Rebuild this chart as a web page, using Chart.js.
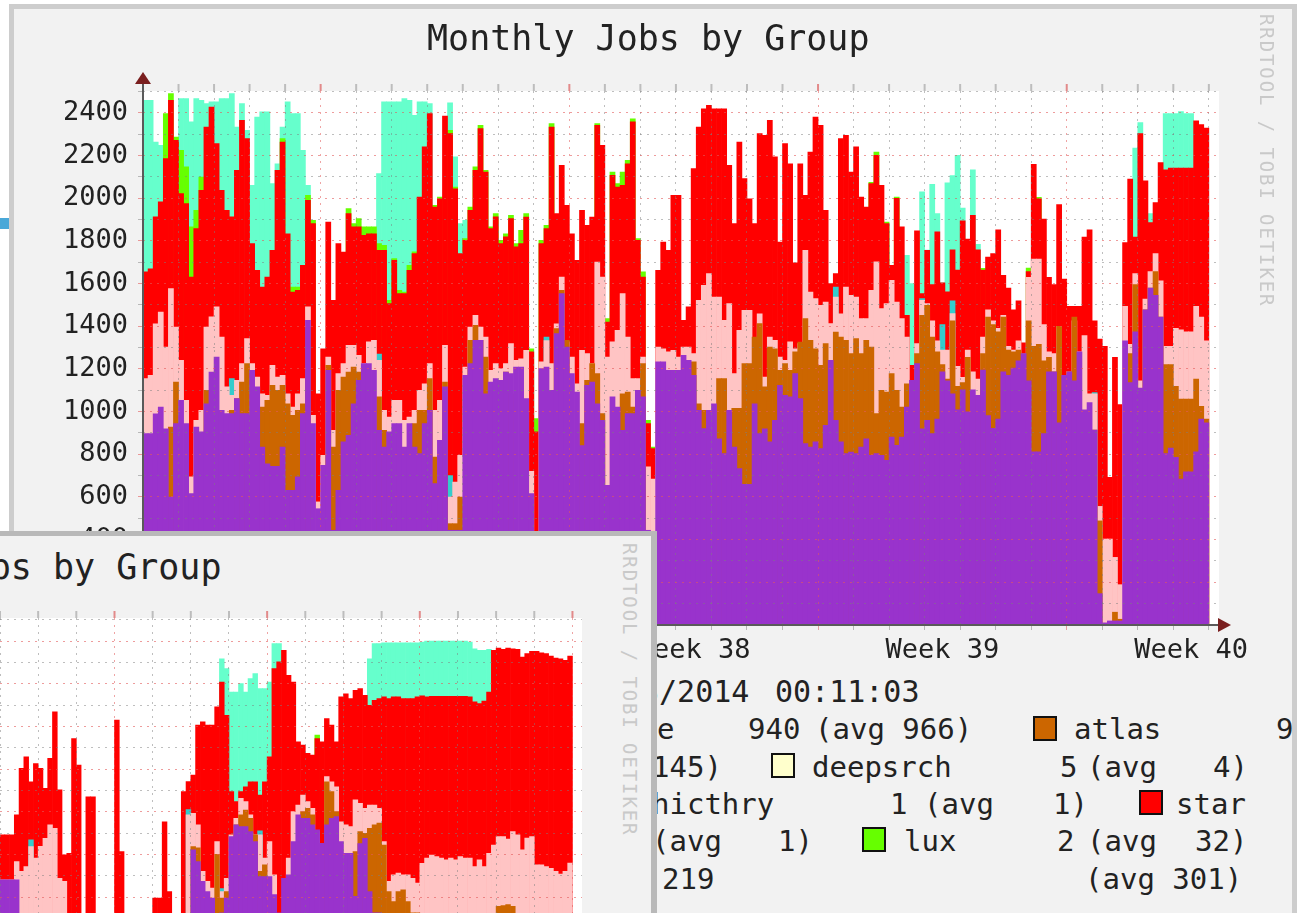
<!DOCTYPE html>
<html>
<head>
<meta charset="utf-8">
<title>Monthly Jobs by Group</title>
<script src="https://cdn.jsdelivr.net/npm/chart.js@4"></script>
<style>
  html, body { margin: 0; padding: 0; background: #fff; overflow: hidden; }
  #page { position: relative; width: 1297px; height: 913px; overflow: hidden; filter: blur(0.7px); }
  .panel { position: absolute; background: #f2f2f2; overflow: hidden; box-sizing: border-box; }
  #panelBack { left: 9px; top: 4px; width: 1288px; height: 909px; border: solid #cdcdcd; border-width: 5px 5px 0 5px; }
  #panelFront { left: -6px; top: 531px; width: 663px; height: 382px; border: solid #b9b9b9; border-width: 5px 6px 0 0; z-index: 5; }
  #blueMark { position: absolute; left: 0; top: 218px; width: 9px; height: 11px; background: #4aa8d8; }
  canvas { position: absolute; }
  #chartBack { left: 0; top: 0; }
  #chartFront { left: 0; top: 600px; z-index: 6; }
  .txt { position: absolute; white-space: pre; font-family: "DejaVu Sans Mono", monospace; color: #222; transform: translateY(-50%); }
  .title { font-size: 35px; }
  .legend { font-size: 29px; }
  .date { font-size: 30px; }
  .stamp { position: absolute; white-space: pre; font-family: "DejaVu Sans Mono", monospace; font-size: 19px; letter-spacing: 1.9px; color: #c9c9c9; writing-mode: vertical-rl; }
  .swatch { position: absolute; width: 24px; height: 25px; box-sizing: border-box; border: 2px solid #111; }
</style>
</head>
<body>
<div id="page">
  <div id="blueMark"></div>
  <div class="panel" id="panelBack"></div>
  <canvas id="chartBack" width="1297" height="660"></canvas>
  <div class="panel" id="panelFront"></div>
  <canvas id="chartFront" width="582" height="313"></canvas>
</div>
<script>
// back graph, one value per column (top of each layer)
const backPurple = [
  897,897,990,1022,920,600,944,1053,944,616,
  928,905,1037,1186,1256,1006,991,991,1061,991,
  991,1194,1116,834,756,744,744,834,631,631,
  694,991,1428,944,545,748,1194,444,631,858,
  889,1037,1147,1225,1225,1194,913,834,905,944,
  944,834,944,834,803,944,1006,663,866,1116,
  444,444,444,1170,1225,1334,1334,1084,1139,1155,
  1147,1186,1178,1209,1209,1061,616,400,1202,1209,
  1100,1366,1553,1303,1178,1092,841,1123,1139,1037,
  959,655,1069,1022,913,991,991,1100,1069,444,
  400,1233,1233,1194,1194,1194,1264,1241,1170,1006,
  921,1006,1037,873,803,1006,834,733,659,659,
  1037,897,920,858,959,1123,1077,1069,1178,1061,
  850,834,858,827,936,1241,959,858,803,811,
  803,834,873,795,803,795,772,881,842,881,
  1022,1147,1225,920,959,897,965,1187,1144,1084,
  1008,1102,999,1102,1076,1195,982,922,965,1187,
  1170,1204,1238,1272,1144,812,812,897,1187,1187,
  948,1170,1187,1144,1281,1008,1042,914,147,10,
  19,19,19,1332,1136,1374,1110,1477,1579,1545,
  1443,803,829,786,684,718,718,812,965,948]
const backBrown = [
  0,0,0,0,0,928,1139,0,0,0,
  0,897,1100,0,0,0,0,1006,1061,1139,
  1225,0,0,1022,1053,1123,1100,1123,1037,983,
  1006,1037,1397,0,0,0,1217,834,1100,1162,
  1186,1209,1186,0,0,0,1069,912,0,0,
  0,0,0,944,1006,1006,1155,787,0,1139,
  475,475,600,0,1334,1405,1334,1256,0,0,
  0,1186,1084,0,0,0,0,0,0,0,
  0,1389,1569,1334,0,0,944,1147,1225,1178,
  991,0,0,1014,1084,1092,1022,0,1225,0,
  0,0,0,0,0,0,0,0,1233,1037,
  1006,0,0,1155,1155,0,1016,1016,1225,1225,
  1350,1413,1116,1303,1295,1194,1225,1194,1280,1326,
  1436,1334,1295,1217,1319,0,1373,1350,1334,1272,
  1342,1272,1334,1303,991,1100,1092,1178,1100,1022,
  1131,0,1272,1452,1498,1349,1281,1221,1153,1426,
  1119,1136,1255,0,1069,1272,1443,1408,1374,1443,
  1289,1281,1289,1272,1426,1306,1315,1238,1255,1187,
  1400,1170,1187,1443,0,0,0,914,488,0,
  0,60,27,0,1272,1596,0,1477,1579,1656,
  1443,1221,1221,1119,1059,1059,1059,1153,1025,965]
const backPink = [
  1155,1170,1412,1467,1303,1577,1397,1241,1053,694,
  959,1006,1397,1444,1491,1350,1116,1077,1147,1225,
  1342,1225,1162,1084,1077,1217,1162,1170,1084,1022,
  1084,1155,1491,983,577,795,1256,912,1178,1225,
  1311,1311,1264,1225,1327,1334,1241,1006,975,1053,
  1053,959,975,1006,1100,1131,1225,1006,1053,1311,
  600,670,795,1209,1397,1452,1397,1350,1194,1225,
  1202,1225,1319,1241,1248,1288,720,0,1233,1333,
  1225,1412,1631,1327,1256,1131,1288,1272,1225,1701,
  1631,1256,1327,1381,1553,1350,1155,1155,1256,741,
  684,1303,1295,1280,1288,1256,1303,1303,1272,1522,
  1592,1647,1537,1537,1428,1506,1178,1381,1475,1475,
  1319,1459,1162,1350,1334,1256,1241,1327,1295,1319,
  1756,1561,1530,1498,1514,1413,1537,1459,1584,1545,
  1537,1436,1436,1569,1702,1483,1506,1616,1514,1436,
  1350,1147,1319,1522,1506,1426,1332,1289,1289,1460,
  1212,1161,1289,1187,1153,1349,1477,1426,1391,1451,
  1306,1289,1332,1272,1630,1715,1715,1408,1281,1272,
  1400,1170,1187,1426,1281,1357,1084,1084,556,403,
  403,317,189,1494,1315,1647,1144,1528,1656,1741,
  1613,1306,1306,1391,1383,1374,1374,1494,1443,1332]
const backRed = [
  1655,1670,1913,1983,2186,2459,2272,2022,1975,1631,
  1858,2037,2334,2428,2256,2037,1944,1913,2131,2366,
  2280,1788,1662,1584,1631,1756,2131,2264,1834,1561,
  1569,1686,1991,1881,1084,1295,1889,1522,1788,1748,
  1928,1866,1866,1827,1834,1834,1756,1756,1506,1709,
  1553,1553,1662,1741,2006,2241,2397,1959,1998,2386,
  2303,2045,1741,1803,1944,2131,2327,2123,1858,1913,
  1788,1819,1905,1772,1788,1912,1280,905,1788,1858,
  2334,1928,2155,1967,1834,1709,1944,1873,1912,2342,
  2248,1420,2108,2053,2061,2162,2358,1803,1631,944,
  827,1662,1795,1756,2014,2014,1428,1491,2139,2334,
  2420,2436,2420,2420,2420,2155,1881,2264,2092,1998,
  1881,2303,2295,2366,2194,1795,2256,2162,1698,2162,
  2014,2217,2381,2342,1944,1600,1647,2280,2295,2123,
  2241,2006,1959,2069,2202,2061,1881,1686,2000,1866,
  1452,1217,1847,1553,1756,1596,1843,1604,1562,1758,
  1664,1894,1809,1920,1758,1664,1724,1741,1852,1639,
  1579,1477,1519,1323,1656,2159,1997,1903,1630,1596,
  1971,1622,1494,1494,1494,1818,1852,1426,1340,1306,
  692,1255,1033,1792,2090,1818,2304,2082,1886,1980,
  2167,2133,2142,2142,2142,2142,2142,2363,2346,2329]
const backLime = [
  0,0,0,0,2397,2491,2287,2225,2147,1866,
  1944,2100,0,0,0,0,0,0,0,0,
  0,0,0,0,0,0,0,2280,0,1584,
  1584,0,2014,1897,0,0,0,0,0,0,
  1952,1881,1905,1866,1866,1866,1788,1780,1522,1717,
  1569,1561,1686,1749,0,0,0,1967,2006,0,
  2319,2053,0,1811,1959,2147,2342,2131,1866,1928,
  1803,1834,1920,1788,1850,1928,1295,967,1803,1873,
  2350,0,0,0,0,0,0,0,0,2350,
  0,1436,2123,2069,2123,2178,2373,1811,1655,959,
  834,0,0,0,0,0,0,0,0,0,
  0,0,0,0,0,0,0,0,0,0,
  0,0,0,0,0,0,0,0,0,0,
  0,0,0,0,0,0,0,0,0,0,
  0,0,0,2075,2217,0,1889,0,2006,0,
  0,0,0,0,0,0,0,0,0,0,
  0,0,0,0,0,1672,0,0,0,0,
  0,0,0,0,1673,0,2005,0,0,0,
  0,0,0,0,0,0,0,0,0,0,
  0,0,0,0,0,0,0,0,0,0,
  0,0,0,0,0,0,0,0,0,0]
const backAqua = [
  2459,2459,2264,2248,0,0,0,2467,2467,2358,
  2467,2459,2444,2452,2452,2467,2467,2491,2334,2444,
  2319,2061,2381,2405,2405,2069,2162,2334,2452,2397,
  2397,2225,2061,0,0,0,0,0,0,0,
  0,0,0,0,0,0,2116,2452,2452,2452,
  2452,2467,2459,2389,2452,2452,2444,0,0,0,
  2448,2194,1881,1897,0,0,0,0,0,0,
  0,0,0,0,0,0,0,0,0,0,
  0,0,0,0,0,0,0,0,0,0,
  0,0,0,0,0,0,0,0,0,0,
  0,0,0,0,0,0,0,0,0,0,
  0,0,0,0,0,0,0,0,0,0,
  0,0,0,0,0,0,0,0,0,0,
  0,0,0,0,0,0,0,0,0,0,
  0,0,0,0,0,0,0,0,0,0,
  1733,1600,0,2030,1757,2065,1929,1604,2073,2107,
  2201,1954,0,2133,1784,0,0,0,0,0,
  0,0,0,0,0,0,0,0,0,0,
  0,0,0,0,0,0,0,0,0,0,
  0,0,0,0,0,2235,2355,0,1929,0,
  0,2397,2397,2397,2406,2397,2397,0,0,0]
// the thin teal layer only shows in a few columns: [column, top]
const backTealSpots = [[17,1155],[46,1270],[60,700],[79,1350],[136,1584],[153,1530],[157,1408],[159,1520],[187,1090]]

// front graph
const frontPurple = [
  1281,1281,1281,1281,0,0,0,0,0,0,
  0,0,0,0,0,0,0,0,0,0,
  0,0,0,0,0,0,0,0,0,0,
  0,0,0,0,0,0,0,0,0,0,
  1421,1366,1273,1226,1195,0,1126,1195,1483,1538,
  1530,1530,1507,1460,1296,1296,1296,1211,1126,1288,
  1304,1460,1585,1569,1569,1538,1515,1452,1538,1569,
  1577,1460,1405,1405,1203,1450,1475,1226,1126,1126]
const frontBrown = [
  0,0,0,0,0,0,0,0,0,0,
  0,0,0,0,0,0,0,0,0,0,
  0,0,0,0,0,0,0,0,0,0,
  0,0,0,0,0,0,0,0,0,0,
  1436,1430,0,0,0,1400,1195,1226,0,1538,
  1585,1608,1569,1491,1320,1351,0,0,0,0,
  0,0,0,1600,1616,1585,0,0,1740,1694,
  1600,0,0,0,1413,1507,1499,1522,1538,1546,
  1444,1226,1179,1226,1234,1179,1126,1126,0,0,
  0,0,0,0,0,0,0,0,0,0,
  0,0,0,0,1156,1160,1164,1156,0,0]
const frontPink = [
  1281,1281,1281,1366,1320,1343,1436,1382,1437,1475,
  1538,1522,1288,1273,0,0,0,0,0,0,
  0,0,0,0,0,0,0,0,0,0,
  0,0,0,0,0,0,0,0,0,1585,
  1592,1538,1320,1273,1242,1460,1226,1288,1491,1569,
  1663,1647,1585,1491,1491,1382,1460,1304,0,0,
  1382,1600,1631,1678,1647,1616,1507,1452,1764,1740,
  1717,1553,1538,1530,1655,1639,1616,1631,1631,1616,
  1460,1273,1304,1312,1304,1304,1288,1265,1358,1382,
  1397,1389,1382,1374,1382,1374,1389,1382,1382,1343,
  1374,1343,1405,1444,1483,1483,1472,1507,1491,1421,
  1476,1483,1351,1351,1343,1335,1320,1307,1320,1359]
const frontRed = [
  1491,1491,1491,1585,1803,1857,1740,1826,1803,1709,
  1850,2068,1702,1398,1405,1943,1818,0,1670,1670,
  0,0,0,0,2029,1413,0,0,0,0,
  0,0,1195,1195,1553,1226,0,0,1694,1741,
  1772,2006,2021,2006,2006,2091,2208,2052,1694,1647,
  1694,1717,1740,1740,1678,1740,1857,2271,2302,2356,
  2239,2208,1928,1912,1873,1865,1943,1928,2037,2006,
  1928,2138,2153,2130,2169,2177,2146,2099,2122,2130,
  2138,2130,2138,2138,2130,2130,2130,2138,2143,2138,
  2141,2141,2141,2141,2141,2141,2141,2141,2138,2115,
  2107,2119,2161,2356,2367,2361,2367,2364,2361,2325,
  2341,2352,2352,2345,2341,2330,2320,2317,2310,2330]
const frontLime = [
  0,0,0,0,0,0,0,0,0,0,
  0,0,0,0,0,0,0,0,0,0,
  0,0,0,0,0,0,0,0,0,0,
  0,0,0,0,0,0,0,0,0,0,
  0,0,0,0,0,0,0,0,0,0,
  0,0,0,0,0,0,0,0,0,0,
  0,0,0,0,0,0,1959,0,0,0]
const frontAqua = [
  0,0,0,0,0,0,0,0,0,0,
  0,0,0,0,0,0,0,0,0,0,
  0,0,0,0,0,0,0,0,0,0,
  0,0,0,0,0,0,0,0,0,0,
  0,0,0,0,0,0,2317,2271,2161,2161,
  2200,2161,2224,2247,2177,2177,2208,2388,2388,0,
  0,0,0,0,0,0,0,0,0,0,
  0,0,0,0,0,0,0,2317,2388,2388,
  2392,2392,2392,2392,2392,2392,2392,2392,2395,2400,
  2400,2400,2400,2400,2400,2400,2400,2400,2395,2364,
  2356,2356,2361]
const frontTealSpots = [[6,1468],[39,1610],[46,1240],[54,1510]]

const weekLabels = { 10: 'Week 36', 59: 'Week 37', 108: 'Week 38', 157: 'Week 39', 206: 'Week 40' }
const yTickValues = [0,100,200,300,400,500,600,700,800,900,1000,1100,1200,1300,1400,1500,1600,1700,1800,1900,2000,2100,2200,2300,2400,2500]

const stampText = 'RRDTOOL / TOBI OETIKER'
const titleText = 'Monthly Jobs by Group'
// text pieces of the legend: [text, x, y]
const dateTexts = [['3/2014', 641, 691], ['00:11:03', 775, 691]]
const legendTexts = [
  ['e', 657, 729], ['940', 748, 729], ['(avg 966)', 815, 729], ['atlas', 1074, 729], ['9', 1276, 729],
  ['145)', 652, 767], ['deepsrch', 812, 767], ['5', 1060, 767], ['(avg', 1087, 767], ['4)', 1213, 767],
  ['hicthry', 652, 804], ['1', 890, 804], ['(avg', 924, 804], ['1)', 1053, 804], ['star', 1176, 804],
  ['(avg', 652, 841], ['1)', 778, 841], ['lux', 904, 841], ['2', 1057, 841], ['(avg', 1087, 841], ['32)', 1195, 841],
  ['219', 662, 879], ['(avg 301)', 1085, 879]
]
const legendSwatches = [['#cc6600', 1033, 716], ['#ffffcc', 771, 753], ['#ff0000', 1139, 790], ['#66ff00', 862, 827]]

const colors = { purple: '#9933cc', brown: '#cc6600', pink: '#ffc4c4', teal: '#33cccc', red: '#ff0000', lime: '#66ff00', aqua: '#66ffcc' }
const axisFont = { family: '"DejaVu Sans Mono", monospace', size: 27 }

function addText(parent, cls, text, x, y) {
  let el = document.createElement('div')
  el.className = cls
  el.textContent = text
  el.style.left = x + 'px'
  el.style.top = y + 'px'
  parent.appendChild(el)
}

function tealColumn(spots, size) {
  let column = new Array(size).fill(0)
  spots.forEach(s => { column[s[0]] = s[1] })
  return column
}

// first dataset is painted last, so the bottom layer goes first
function layers(purple, brown, pink, teal, red, lime, aqua) {
  let list = [[purple, colors.purple], [brown, colors.brown], [pink, colors.pink], [teal, colors.teal], [red, colors.red], [lime, colors.lime], [aqua, colors.aqua]]
  return list.map(l => ({ data: l[0], backgroundColor: l[1], borderWidth: 0, barPercentage: 1, categoryPercentage: 1 }))
}

const whitePlot = {
  id: 'whitePlot',
  beforeDraw(chart) {
    let a = chart.chartArea
    chart.ctx.fillStyle = '#fff'
    chart.ctx.fillRect(a.left, a.top, a.right - a.left, a.bottom - a.top)
  }
}

function topTicks(isDay, isWeek) {
  return {
    id: 'topTicks',
    afterDraw(chart) {
      let x = chart.scales.x
      let ctx = chart.ctx
      let half = (x.getPixelForTick(1) - x.getPixelForTick(0)) / 2
      x.ticks.forEach((t, i) => {
        if (!isDay(i)) return
        ctx.strokeStyle = isWeek(i) ? '#e28a8a' : '#bdbdbd'
        ctx.lineWidth = 2
        ctx.beginPath()
        ctx.moveTo(x.getPixelForTick(i) - half, chart.chartArea.top - 7)
        ctx.lineTo(x.getPixelForTick(i) - half, chart.chartArea.top)
        ctx.stroke()
      })
    }
  }
}

const axisArrows = {
  id: 'axisArrows',
  afterDraw(chart) {
    let a = chart.chartArea
    let ctx = chart.ctx
    ctx.strokeStyle = '#5a5a5a'
    ctx.lineWidth = 2
    ctx.beginPath()
    ctx.moveTo(a.left, a.top - 8)
    ctx.lineTo(a.left, a.bottom)
    ctx.lineTo(a.right, a.bottom)
    ctx.stroke()
    ctx.fillStyle = '#7a1f1f'
    ctx.beginPath()
    ctx.moveTo(a.left - 8, a.top - 7)
    ctx.lineTo(a.left + 8, a.top - 7)
    ctx.lineTo(a.left, a.top - 19)
    ctx.fill()
    ctx.beginPath()
    ctx.moveTo(a.right - 1, a.bottom - 7)
    ctx.lineTo(a.right - 1, a.bottom + 7)
    ctx.lineTo(a.right + 12, a.bottom)
    ctx.fill()
  }
}

function lineColor(red, grey, show, isRed) {
  return show ? (isRed ? red : grey) : 'rgba(0,0,0,0)'
}

function makeChart(id, cols, sets, yMin, yMax, padding, yWidth, xHeight, isDay, isWeek, showLabels, extra) {
  let labels = []
  for (let i = 0; i < cols; i++) labels.push(i)
  return new Chart(document.getElementById(id), {
    type: 'bar',
    data: { labels: labels, datasets: sets },
    plugins: [whitePlot, topTicks(isDay, isWeek)].concat(extra),
    options: {
      responsive: false,
      animation: false,
      layout: { padding: padding },
      plugins: {
        legend: { display: false },
        tooltip: { enabled: false }
      },
      scales: {
        x: {
          stacked: true,
          afterFit: s => { s.height = xHeight },
          grid: {
            z: 1,
            offset: true,
            tickLength: 5,
            color: c => lineColor('rgba(226,90,90,.55)', 'rgba(125,125,125,.5)', isDay(c.index), isWeek(c.index))
          },
          border: { display: false, dash: [2, 5] },
          ticks: {
            display: showLabels,
            autoSkip: false,
            maxRotation: 0,
            minRotation: 0,
            padding: 5,
            color: '#222',
            font: axisFont,
            callback: (v, i) => weekLabels[i] || ''
          }
        },
        y: {
          stacked: false,
          min: yMin,
          max: yMax,
          afterFit: s => { s.width = yWidth },
          // the step has to stay at exactly 100, min/max would stretch it
          afterBuildTicks: s => { s.ticks = yTickValues.filter(v => v >= yMin && v <= yMax).map(v => ({ value: v })) },
          grid: {
            z: 1,
            tickLength: 5,
            color: c => lineColor('rgba(226,90,90,.6)', 'rgba(125,125,125,.5)', true, c.tick.value % 200 === 0)
          },
          border: { display: false, dash: [2, 5] },
          ticks: {
            display: showLabels,
            autoSkip: false,
            padding: 10,
            color: '#222',
            font: axisFont,
            callback: v => (v % 200 === 0 && v <= 2400 && v > 0 ? String(v) : '')
          }
        }
      }
    }
  })
}

const page = document.getElementById('page')
const panelFront = document.getElementById('panelFront')

addText(page, 'txt title', titleText, 427, 38)
dateTexts.forEach(t => addText(page, 'txt date', t[0], t[1], t[2]))
legendTexts.forEach(t => addText(page, 'txt legend', t[0], t[1], t[2]))
legendSwatches.forEach(s => {
  let el = document.createElement('div')
  el.className = 'swatch'
  el.style.background = s[0]
  el.style.left = s[1] + 'px'
  el.style.top = s[2] + 'px'
  page.appendChild(el)
})
let stampBack = document.createElement('div')
stampBack.className = 'stamp'
stampBack.textContent = stampText
stampBack.style.left = '1256px'
stampBack.style.top = '14px'
page.appendChild(stampBack)

// front panel text, its box starts at (-6, 531) and the border is 5 high
addText(panelFront, 'txt title', titleText, -215, 31)
let stampFront = document.createElement('div')
stampFront.className = 'stamp'
stampFront.textContent = stampText
stampFront.style.left = '625px'
stampFront.style.top = '7px'
panelFront.appendChild(stampFront)

// back graph: 7 columns a day, 30 days, last two columns stay empty
makeChart('chartBack', 212,
  layers(backPurple, backBrown, backPink, tealColumn(backTealSpots, 210), backRed, backLime, backAqua),
  0, 2503, { top: 91, right: 78 }, 143, 35,
  i => i % 7 === 0,
  i => i >= 35 && (i - 35) % 49 === 0,
  true, [axisArrows])

// front graph: 8 columns per grid step, only its right part fits on the page
makeChart('chartFront', 122,
  layers(frontPurple, frontBrown, frontPink, tealColumn(frontTealSpots, 120), frontRed, frontLime, frontAqua),
  1125, 2508, { top: 18 }, 0, 0,
  i => i % 8 === 0,
  i => i % 32 === 24,
  false, [])
</script>
</body>
</html>
